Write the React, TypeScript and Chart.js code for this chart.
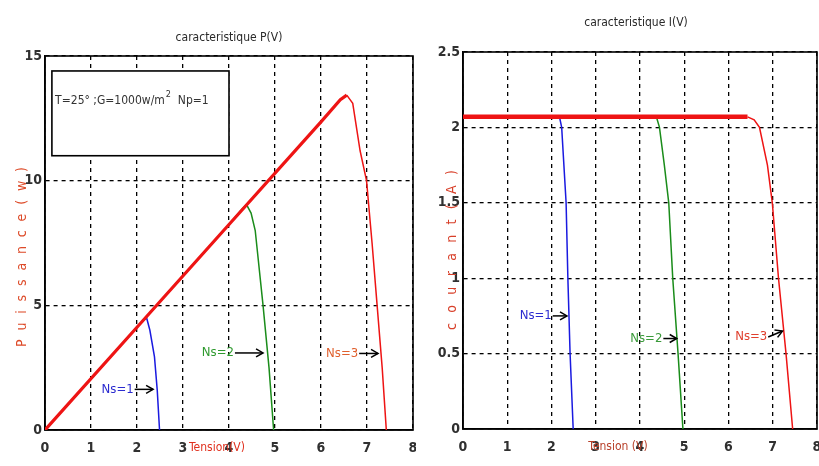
import React, { useEffect, useRef } from 'react';
import { Chart, registerables } from 'chart.js';

Chart.register(...registerables);

// ---------- DATA ----------
// x ticks (Tension, V)
const xTickValues = [0, 1, 2, 3, 4, 5, 6, 7, 8];
// P(V) chart y ticks (Puissance, W)
const pvYTickValues = [0, 5, 10, 15];
// I(V) chart y ticks (Courant, A)
const ivYTickValues = [0, 0.5, 1, 1.5, 2, 2.5];

// P(V) curves
const pvNs1V = [0, 1, 2, 2.15, 2.21, 2.28, 2.38, 2.44, 2.49];
const pvNs1P = [0, 2.06, 4.12, 4.42, 4.49, 4.0, 2.93, 1.6, 0];
const pvNs2V = [0, 2, 4, 4.28, 4.38, 4.48, 4.57, 4.74, 4.87, 4.97];
const pvNs2P = [0, 4.12, 8.24, 8.85, 9.04, 8.7, 8.0, 5.0, 2.5, 0];
const pvNs3V = [0, 2, 4, 6, 6.42, 6.56, 6.69, 6.85, 6.99, 7.11, 7.22, 7.33, 7.42];
const pvNs3P = [0, 4.12, 8.24, 12.36, 13.25, 13.43, 13.1, 11.2, 10.0, 7.5, 5.0, 2.5, 0];

// I(V) curves
const ivNs1V = [0, 2.18, 2.23, 2.33, 2.37, 2.42, 2.49];
const ivNs1I = [2.07, 2.07, 2.0, 1.5, 1.0, 0.5, 0];
const ivNs2V = [0, 4.37, 4.44, 4.55, 4.65, 4.74, 4.86, 4.97];
const ivNs2I = [2.07, 2.07, 2.0, 1.75, 1.5, 1.0, 0.5, 0];
const ivNs3V = [0, 6.43, 6.58, 6.7, 6.88, 6.99, 7.13, 7.3, 7.45];
const ivNs3I = [2.07, 2.07, 2.05, 2.0, 1.75, 1.5, 1.0, 0.5, 0];

// where the red (Ns=3) trace is drawn thick
const pvThickUntil = 6.56;
const ivThickUntil = 6.43;

// annotation labels: text, start x (V), y, arrow end x (V), arrow end y
const pvLabels = [
  { text: 'Ns=1', color: '#2b2bd0', x: 1.23, y: 1.63, toX: 2.35, toY: 1.63 },
  { text: 'Ns=2', color: '#2f9a2f', x: 3.41, y: 3.09, toX: 4.74, toY: 3.09 },
  { text: 'Ns=3', color: '#e0602e', x: 6.11, y: 3.07, toX: 7.24, toY: 3.07 },
];
const ivLabels = [
  { text: 'Ns=1', color: '#2b2bd0', x: 1.28, y: 0.75, toX: 2.35, toY: 0.75 },
  { text: 'Ns=2', color: '#3a9a3a', x: 3.78, y: 0.6, toX: 4.83, toY: 0.6 },
  { text: 'Ns=3', color: '#e0402e', x: 6.15, y: 0.61, toX: 7.22, toY: 0.65 },
];

// ---------- STYLE ----------
const FONT = '"Liberation Sans Narrow", "DejaVu Sans Condensed", "Liberation Sans", sans-serif';
const RED = '#ee1414';
const BLUE = '#1a1ae0';
const GREEN = '#1a8c1a';

type Series = { xs: number[]; ys: number[]; color: string; thickUntil?: number; thick?: number };

function drawSpacedVertical(ctx: CanvasRenderingContext2D, text: string, cx: number, yBottom: number, yTop: number) {
  const chars = text.split('');
  const widths = chars.map((c) => ctx.measureText(c).width);
  const total = widths.reduce((a, b) => a + b, 0);
  const extra = (yBottom - yTop - total) / Math.max(1, chars.length - 1);
  ctx.save();
  ctx.translate(cx, yBottom);
  ctx.rotate(-Math.PI / 2);
  ctx.textBaseline = 'middle';
  ctx.textAlign = 'left';
  let pos = 0;
  chars.forEach((c, i) => {
    ctx.fillText(c, pos, 0);
    pos += widths[i] + extra;
  });
  ctx.restore();
}

function drawArrow(ctx: CanvasRenderingContext2D, x1: number, y1: number, x2: number, y2: number) {
  ctx.save();
  ctx.strokeStyle = '#000';
  ctx.lineWidth = 1.5;
  ctx.beginPath();
  ctx.moveTo(x1, y1);
  ctx.lineTo(x2, y2);
  ctx.stroke();
  const a = Math.atan2(y2 - y1, x2 - x1);
  const L = 7;
  const W = 4;
  ctx.beginPath();
  ctx.moveTo(x2 - L * Math.cos(a) + W * Math.sin(a), y2 - L * Math.sin(a) - W * Math.cos(a));
  ctx.lineTo(x2, y2);
  ctx.lineTo(x2 - L * Math.cos(a) - W * Math.sin(a), y2 - L * Math.sin(a) + W * Math.cos(a));
  ctx.stroke();
  ctx.restore();
}

const decorPlugin = {
  id: 'decor',
  beforeDatasetsDraw(chart: any, _args: any, opts: any) {
    const { ctx, chartArea: a } = chart;
    ctx.save();
    ctx.strokeStyle = '#000';
    ctx.lineWidth = 1.6;
    ctx.strokeRect(a.left, a.top, a.right - a.left, a.bottom - a.top);
    if (opts.legend) {
      const xs = chart.scales.x;
      const ys = chart.scales.y;
      const L = opts.legend;
      const x0 = xs.getPixelForValue(L.x0);
      const x1 = xs.getPixelForValue(L.x1);
      const y0 = ys.getPixelForValue(L.y0);
      const y1 = ys.getPixelForValue(L.y1);
      ctx.fillStyle = '#fff';
      ctx.fillRect(x0, y0, x1 - x0, y1 - y0);
      ctx.lineWidth = 1.6;
      ctx.strokeRect(x0, y0, x1 - x0, y1 - y0);
      ctx.fillStyle = '#333';
      ctx.font = `12px ${FONT}`;
      ctx.textBaseline = 'middle';
      ctx.textAlign = 'left';
      let tx = xs.getPixelForValue(L.textX);
      const ty = ys.getPixelForValue(L.textY);
      ctx.fillText(L.before, tx, ty);
      tx += ctx.measureText(L.before).width;
      ctx.font = `9px ${FONT}`;
      ctx.fillText(L.sup, tx + 1, ty - 6);
      tx += ctx.measureText(L.sup).width + 1;
      ctx.font = `12px ${FONT}`;
      ctx.fillText(L.after, tx, ty);
    }
    ctx.restore();
  },
  afterDraw(chart: any, _args: any, opts: any) {
    const { ctx, chartArea: a } = chart;
    const xs = chart.scales.x;
    const ys = chart.scales.y;
    ctx.save();
    // title
    ctx.fillStyle = '#2a2a2a';
    ctx.font = `12px ${FONT}`;
    ctx.textAlign = 'center';
    ctx.textBaseline = 'middle';
    ctx.fillText(opts.title, (a.left + a.right) / 2 + opts.titleDx, a.top - opts.titleRise);
    // x title
    ctx.fillStyle = opts.xTitleColor;
    ctx.font = `12px ${FONT}`;
    ctx.fillText(opts.xTitle, opts.xTitleX, a.bottom + 18);
    // y title
    ctx.fillStyle = opts.yTitleColor;
    ctx.font = `14px ${FONT}`;
    drawSpacedVertical(ctx, opts.yTitle, opts.yTitleX, opts.yTitleBottom, opts.yTitleTop);
    // labels + arrows
    ctx.font = `13px ${FONT}`;
    ctx.textAlign = 'left';
    ctx.textBaseline = 'middle';
    (opts.labels || []).forEach((l: any) => {
      const px = xs.getPixelForValue(l.x);
      const py = ys.getPixelForValue(l.y);
      ctx.fillStyle = l.color;
      ctx.fillText(l.text, px, py);
      const w = ctx.measureText(l.text).width;
      drawArrow(ctx, px + w + 1, py, xs.getPixelForValue(l.toX), ys.getPixelForValue(l.toY));
    });
    ctx.restore();
  },
};

function buildConfig(p: {
  series: Series[];
  yMax: number;
  yTicks: number[];
  yWidth: number;
  xHeight: number;
  padTop: number;
  padRight: number;
  decor: any;
}): any {
  const datasets = p.series.map((s) => ({
    data: s.xs.map((x, i) => ({ x, y: s.ys[i] })),
    borderColor: s.color,
    borderWidth: 1.5,
    pointRadius: 0,
    tension: 0,
    fill: false,
    segment: s.thickUntil !== undefined
      ? { borderWidth: (c: any) => (c.p1.parsed.x <= (s.thickUntil as number) + 1e-9 ? s.thick : 1.5) }
      : undefined,
  }));
  const tickFont = { family: FONT, size: 14, weight: 'bold' as const };
  return {
    type: 'line',
    data: { datasets },
    options: {
      responsive: false,
      animation: false,
      events: [],
      layout: { padding: { top: p.padTop, right: p.padRight, left: 0, bottom: 0 } },
      plugins: {
        legend: { display: false },
        tooltip: { enabled: false },
        title: { display: false },
        decor: p.decor,
      },
      scales: {
        x: {
          type: 'linear',
          min: 0,
          max: 8,
          afterBuildTicks: (s: any) => {
            s.ticks = xTickValues.map((v) => ({ value: v }));
          },
          ticks: {
            padding: 10,
            color: '#303030',
            font: tickFont,
            maxRotation: 0,
            autoSkip: false,
            callback: (v: any) => String(v),
          },
          grid: { color: '#000', lineWidth: 1.3, drawTicks: false },
          border: { display: true, color: '#000', width: 1.6, dash: [4, 4] },
          afterFit: (s: any) => {
            s.height = p.xHeight;
            s.paddingLeft = 0;
            s.paddingRight = 0;
          },
        },
        y: {
          type: 'linear',
          min: 0,
          max: p.yMax,
          afterBuildTicks: (s: any) => {
            s.ticks = p.yTicks.map((v) => ({ value: v }));
          },
          ticks: {
            padding: 3,
            color: '#303030',
            font: tickFont,
            autoSkip: false,
            callback: (v: any) => String(v),
          },
          grid: { color: '#000', lineWidth: 1.3, drawTicks: false },
          border: { display: true, color: '#000', width: 1.6, dash: [4, 4] },
          afterFit: (s: any) => {
            s.width = p.yWidth;
            s.paddingTop = 0;
            s.paddingBottom = 0;
          },
        },
      },
    },
    plugins: [decorPlugin],
  };
}

export default function App() {
  const leftRef = useRef<HTMLCanvasElement>(null);
  const rightRef = useRef<HTMLCanvasElement>(null);

  useEffect(() => {
    const left = new Chart(
      leftRef.current as HTMLCanvasElement,
      buildConfig({
        series: [
          { xs: pvNs3V, ys: pvNs3P, color: RED, thickUntil: pvThickUntil, thick: 3.2 },
          { xs: pvNs1V, ys: pvNs1P, color: BLUE },
          { xs: pvNs2V, ys: pvNs2P, color: GREEN },
        ],
        yMax: 15,
        yTicks: pvYTickValues,
        yWidth: 45,
        xHeight: 36,
        padTop: 56,
        padRight: 3,
        decor: {
          title: 'caracteristique P(V)',
          titleDx: 0,
          titleRise: 18,
          xTitle: 'Tension(V)',
          xTitleX: 217,
          xTitleColor: '#e0301e',
          yTitle: 'Puissance(w)',
          yTitleX: 22,
          yTitleBottom: 347,
          yTitleTop: 167,
          yTitleColor: '#dd4a28',
          labels: pvLabels,
          legend: {
            x0: 0.15, x1: 4.0, y0: 14.4, y1: 11.0,
            textX: 0.22, textY: 13.2,
            before: 'T=25° ;G=1000w/m', sup: '2', after: '  Np=1',
          },
        },
      })
    );
    const right = new Chart(
      rightRef.current as HTMLCanvasElement,
      buildConfig({
        series: [
          { xs: ivNs3V, ys: ivNs3I, color: RED, thickUntil: ivThickUntil, thick: 4.5 },
          { xs: ivNs1V, ys: ivNs1I, color: BLUE },
          { xs: ivNs2V, ys: ivNs2I, color: GREEN },
        ],
        yMax: 2.5,
        yTicks: ivYTickValues,
        yWidth: 47,
        xHeight: 37,
        padTop: 52,
        padRight: 2,
        decor: {
          title: 'caracteristique I(V)',
          titleDx: -4,
          titleRise: 29,
          xTitle: 'Tension (V)',
          xTitleX: 202,
          xTitleColor: '#b8402a',
          yTitle: 'courant(A)',
          yTitleX: 36,
          yTitleBottom: 330,
          yTitleTop: 170,
          yTitleColor: '#d8402a',
          labels: ivLabels,
        },
      })
    );
    return () => {
      left.destroy();
      right.destroy();
    };
  }, []);

  return (
    <div
      style={{
        position: 'fixed',
        left: 0,
        top: 0,
        width: 819,
        height: 466,
        background: '#fff',
        overflow: 'hidden',
      }}
    >
      <canvas ref={leftRef} width={416} height={466} style={{ position: 'absolute', left: 0, top: 0 }} />
      <canvas ref={rightRef} width={403} height={466} style={{ position: 'absolute', left: 416, top: 0 }} />
    </div>
  );
}
